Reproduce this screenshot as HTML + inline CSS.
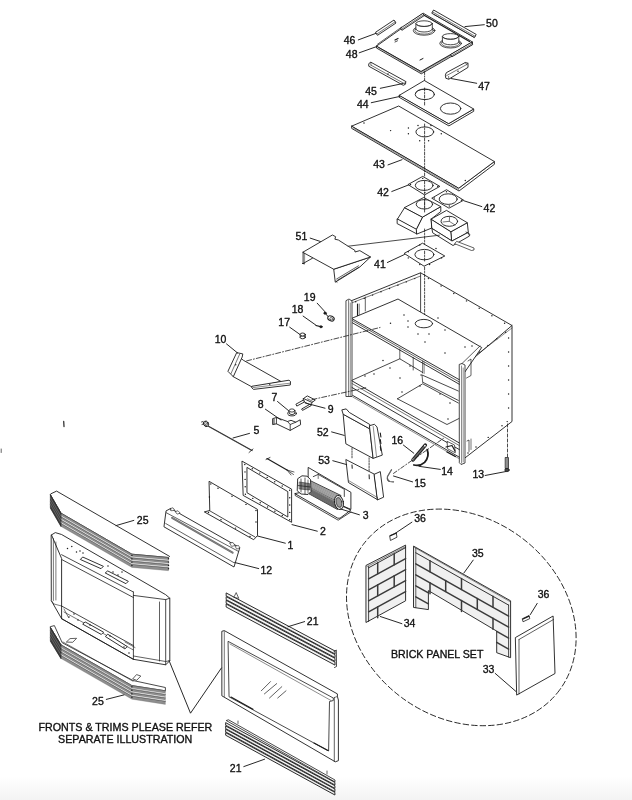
<!DOCTYPE html>
<html><head><meta charset="utf-8"><style>
html,body{margin:0;padding:0;background:#fff;}
body{width:632px;height:800px;overflow:hidden;position:relative;}
svg{position:absolute;left:0;top:0;filter:grayscale(1);}
text{font-family:"Liberation Sans",sans-serif;fill:#111;stroke:#111;stroke-width:0.35px;}
.t{opacity:0.995;}
</style></head><body>
<svg width="632" height="800" viewBox="0 0 632 800" stroke-linecap="round" stroke-linejoin="round">
<defs><linearGradient id="bg" x1="0" y1="0" x2="0" y2="1"><stop offset="0" stop-color="#fff"/><stop offset="1" stop-color="#f3f3f3"/></linearGradient></defs>
<rect x="0" y="776" width="632" height="24" fill="url(#bg)"/>
<polygon points="377.8,35.1 396,23 394,20 375.8,32.1" fill="#fff" stroke="#1c1c1c" stroke-width="0.9" stroke-linejoin="round" />
<polyline points="377,33.9 395.2,21.8" fill="none" stroke="#1c1c1c" stroke-width="0.6" />
<polygon points="432.1,13.4 474.4,37.6 476.2,34.4 433.9,10.2" fill="#fff" stroke="#1c1c1c" stroke-width="0.9" stroke-linejoin="round" />
<polyline points="432.8,12.1 475.1,36.3" fill="none" stroke="#1c1c1c" stroke-width="0.6" />
<polyline points="434,14.5 474,37.2" fill="none" stroke="#1c1c1c" stroke-width="0.6" />
<polygon points="376.8,45.9 421.3,71.3 472.5,42 472.5,44.3 421.3,73.8 376.8,48.2" fill="#fff" stroke="#1c1c1c" stroke-width="0.9" stroke-linejoin="round" />
<polygon points="376.8,45.9 423.2,13.2 472.5,42 421.3,71.3" fill="#fff" stroke="#1c1c1c" stroke-width="0.9" stroke-linejoin="round" />
<polyline points="378,47.5 421.3,72.5 472,43.2" fill="none" stroke="#1c1c1c" stroke-width="0.5" />
<polygon points="402.2,30.1 424.2,15.6 422.8,13.4 400.8,27.9" fill="#fff" stroke="#1c1c1c" stroke-width="0.9" stroke-linejoin="round" />
<polyline points="401.6,29.2 423.6,14.7" fill="none" stroke="#1c1c1c" stroke-width="0.6" />
<polygon points="452.2,56.6 472.7,44.6 471.3,42.4 450.8,54.4" fill="#fff" stroke="#1c1c1c" stroke-width="0.9" stroke-linejoin="round" />
<polyline points="451.6,55.7 472.1,43.7" fill="none" stroke="#1c1c1c" stroke-width="0.6" />
<polyline points="424.5,15.5 469.5,41.5" fill="none" stroke="#1c1c1c" stroke-width="1.3" />
<polyline points="377.5,44.2 401.5,27.2" fill="none" stroke="#1c1c1c" stroke-width="0.7" />
<ellipse cx="424.1" cy="30.6" rx="10.8" ry="4.6" fill="#fff" stroke="#1c1c1c" stroke-width="0.8" />
<ellipse cx="424.1" cy="30.4" rx="9.2" ry="3.7" fill="#fff" stroke="#1c1c1c" stroke-width="0.6" />
<polygon points="415.9,23.6 415.9,29.2 432.3,29.2 432.3,23.6" fill="#fff" stroke="#1c1c1c" stroke-width="0" stroke-linejoin="round" />
<polyline points="415.9,23.6 415.9,29.2" fill="none" stroke="#1c1c1c" stroke-width="0.8" />
<polyline points="432.3,23.6 432.3,29.2" fill="none" stroke="#1c1c1c" stroke-width="0.8" />
<path d="M415.90000000000003,29.2 A8.2,2.8 0 0 0 432.3,29.2" fill="none" stroke="#1c1c1c" stroke-width="0.8"/>
<ellipse cx="424.1" cy="23.6" rx="8.2" ry="2.8" fill="#fff" stroke="#1c1c1c" stroke-width="0.8" />
<path d="M416.5,24.200000000000003 A7.6,2.3 0 0 0 431.70000000000005,24.200000000000003" fill="none" stroke="#1c1c1c" stroke-width="0.6"/>
<ellipse cx="450.6" cy="43.4" rx="10.8" ry="4.6" fill="#fff" stroke="#1c1c1c" stroke-width="0.8" />
<ellipse cx="450.6" cy="43.2" rx="9.2" ry="3.7" fill="#fff" stroke="#1c1c1c" stroke-width="0.6" />
<polygon points="442.4,36.4 442.4,42 458.8,42 458.8,36.4" fill="#fff" stroke="#1c1c1c" stroke-width="0" stroke-linejoin="round" />
<polyline points="442.4,36.4 442.4,42" fill="none" stroke="#1c1c1c" stroke-width="0.8" />
<polyline points="458.8,36.4 458.8,42" fill="none" stroke="#1c1c1c" stroke-width="0.8" />
<path d="M442.40000000000003,42.0 A8.2,2.8 0 0 0 458.8,42.0" fill="none" stroke="#1c1c1c" stroke-width="0.8"/>
<ellipse cx="450.6" cy="36.4" rx="8.2" ry="2.8" fill="#fff" stroke="#1c1c1c" stroke-width="0.8" />
<path d="M443.0,37.0 A7.6,2.3 0 0 0 458.20000000000005,37.0" fill="none" stroke="#1c1c1c" stroke-width="0.6"/>
<polyline points="395,40 398,38.5" fill="none" stroke="#1c1c1c" stroke-width="1.2" />
<polyline points="395,42 397.5,40.8" fill="none" stroke="#1c1c1c" stroke-width="0.8" />
<polyline points="420,60 423,58.5" fill="none" stroke="#1c1c1c" stroke-width="1.0" />
<polygon points="369.1,63.4 370.8,62.2 405.8,81.5 405.5,84.2 403.3,85.3 369.1,66.4" fill="#fff" stroke="#1c1c1c" stroke-width="0.9" stroke-linejoin="round" />
<polyline points="371,65.2 404.3,83.6" fill="none" stroke="#1c1c1c" stroke-width="0.6" />
<polyline points="370.8,62.4 371,65.2" fill="none" stroke="#1c1c1c" stroke-width="0.6" />
<polyline points="404.3,83.6 405.6,81.7" fill="none" stroke="#1c1c1c" stroke-width="0.6" />
<circle cx="388" cy="74" r="0.72" fill="#1c1c1c"/>
<polygon points="445.5,74.8 446.3,72.7 465.3,62.5 468,63.2 468,67.4 448.8,79.2 446.2,78.4" fill="#fff" stroke="#1c1c1c" stroke-width="0.9" stroke-linejoin="round" />
<polyline points="446.6,75.6 466.6,64.6" fill="none" stroke="#1c1c1c" stroke-width="0.6" />
<polyline points="448.6,76.4 448.8,79" fill="none" stroke="#1c1c1c" stroke-width="0.6" />
<polyline points="465.3,62.6 466.6,64.6 468,63.4" fill="none" stroke="#1c1c1c" stroke-width="0.6" />
<circle cx="458" cy="71.3" r="0.72" fill="#1c1c1c"/>
<polygon points="399.5,95.2 448.9,123.5 473.7,109 473.7,111.3 448.9,125.9 399.5,97.5" fill="#fff" stroke="#1c1c1c" stroke-width="0.9" stroke-linejoin="round" />
<polygon points="399.5,95.2 424.3,80.5 473.7,109 448.9,123.5" fill="#fff" stroke="#1c1c1c" stroke-width="0.9" stroke-linejoin="round" />
<ellipse cx="424.8" cy="94.4" rx="9.6" ry="5.2" fill="#fff" stroke="#1c1c1c" stroke-width="0.9" />
<ellipse cx="450.6" cy="108.6" rx="10.2" ry="5.6" fill="#fff" stroke="#1c1c1c" stroke-width="0.9" />
<path d="M415.6,93.2 A9.2,4.2 0 0 1 434,93.2" fill="none" stroke="#1c1c1c" stroke-width="0.6"/>
<polygon points="352,126 459,188 494.4,161.5 494.4,164.3 459,191 352,128.6" fill="#fff" stroke="#1c1c1c" stroke-width="0.9" stroke-linejoin="round" />
<polygon points="352,126 398.7,106 494.4,161.5 459,188" fill="#fff" stroke="#1c1c1c" stroke-width="0.9" stroke-linejoin="round" />
<polyline points="353.5,128.2 458.6,189.5" fill="none" stroke="#1c1c1c" stroke-width="0.5" />
<ellipse cx="424.8" cy="131.9" rx="8.9" ry="5" fill="#fff" stroke="#1c1c1c" stroke-width="0.9" />
<circle cx="364" cy="123" r="0.72" fill="#1c1c1c"/>
<circle cx="390.6" cy="130.6" r="0.72" fill="#1c1c1c"/>
<circle cx="408.4" cy="128" r="0.72" fill="#1c1c1c"/>
<circle cx="408.4" cy="133.7" r="0.72" fill="#1c1c1c"/>
<circle cx="441.3" cy="133.7" r="0.72" fill="#1c1c1c"/>
<circle cx="419.7" cy="140.8" r="0.72" fill="#1c1c1c"/>
<circle cx="428.6" cy="140.8" r="0.72" fill="#1c1c1c"/>
<circle cx="465.3" cy="180.5" r="0.72" fill="#1c1c1c"/>
<circle cx="418" cy="125.5" r="0.72" fill="#1c1c1c"/>
<circle cx="431" cy="125.5" r="0.72" fill="#1c1c1c"/>
<polygon points="408.3,184.4 422.7,176.4 439.9,186.4 424.9,194.7" fill="#fff" stroke="#1c1c1c" stroke-width="0.9" stroke-linejoin="round" />
<ellipse cx="424.2" cy="185.4" rx="8.9" ry="5" fill="#fff" stroke="#1c1c1c" stroke-width="0.9" />
<polygon points="432.1,198 446.5,189.7 463.7,200.2 449.3,208" fill="#fff" stroke="#1c1c1c" stroke-width="0.9" stroke-linejoin="round" />
<ellipse cx="448.2" cy="199.1" rx="9" ry="5.3" fill="#fff" stroke="#1c1c1c" stroke-width="0.9" />
<circle cx="410.5" cy="184.5" r="0.72" fill="#1c1c1c"/>
<circle cx="422.7" cy="178.4" r="0.72" fill="#1c1c1c"/>
<circle cx="437.8" cy="186.4" r="0.72" fill="#1c1c1c"/>
<circle cx="424.9" cy="192.6" r="0.72" fill="#1c1c1c"/>
<circle cx="434.3" cy="198" r="0.72" fill="#1c1c1c"/>
<circle cx="446.5" cy="191.7" r="0.72" fill="#1c1c1c"/>
<circle cx="461.5" cy="200.2" r="0.72" fill="#1c1c1c"/>
<circle cx="449.3" cy="206" r="0.72" fill="#1c1c1c"/>
<polygon points="397.5,219 404.7,207.5 422.7,217 416.5,229.3" fill="#fff" stroke="#1c1c1c" stroke-width="0.9" stroke-linejoin="round" />
<polygon points="397.5,219 416.5,229.3 417,234 397.5,223.8" fill="#fff" stroke="#1c1c1c" stroke-width="0.9" stroke-linejoin="round" />
<polygon points="416.5,229.3 422.7,217 440.8,206.6 440.8,211.5 431.3,219 431.8,228 417,234" fill="#fff" stroke="#1c1c1c" stroke-width="0.9" stroke-linejoin="round" />
<polygon points="404.7,207.5 423.7,197.5 440.8,206.6 422.7,217" fill="#fff" stroke="#1c1c1c" stroke-width="0.9" stroke-linejoin="round" />
<ellipse cx="424.4" cy="204.3" rx="8.2" ry="4.7" fill="#fff" stroke="#1c1c1c" stroke-width="0.9" />
<polyline points="424.6,199.6 424.6,209" fill="none" stroke="#1c1c1c" stroke-width="0.6" stroke-dasharray="2 1"/>
<polygon points="431.3,219 451.2,231.6 452,241 432.2,228.6" fill="#fff" stroke="#1c1c1c" stroke-width="0.9" stroke-linejoin="round" />
<polygon points="451.2,231.6 467.3,222.7 468.3,232.3 452,241" fill="#fff" stroke="#1c1c1c" stroke-width="0.9" stroke-linejoin="round" />
<polygon points="431.3,219 446.5,210.4 467.3,222.7 451.2,231.6" fill="#fff" stroke="#1c1c1c" stroke-width="0.9" stroke-linejoin="round" />
<ellipse cx="449.3" cy="221.3" rx="8.3" ry="5" fill="#fff" stroke="#1c1c1c" stroke-width="0.9" />
<polyline points="443,222 449.3,221.3 455,225" fill="none" stroke="#1c1c1c" stroke-width="0.6" />
<polyline points="449.3,221.3 449.6,216.8" fill="none" stroke="#1c1c1c" stroke-width="0.6" />
<polygon points="432.2,228.6 452,241 468.3,232.3 469.5,236 453,245.5 433,233" fill="#fff" stroke="#1c1c1c" stroke-width="0.9" stroke-linejoin="round" />
<polygon points="455,243.8 471.5,250.5 474,250 474,248 457,241.5" fill="#fff" stroke="#1c1c1c" stroke-width="0.7" stroke-linejoin="round" />
<polyline points="466,232 470,234.5" fill="none" stroke="#1c1c1c" stroke-width="0.7" />
<polygon points="334.1,269.1 370.5,257 359.8,267 335.6,282" fill="#fff" stroke="#1c1c1c" stroke-width="0.9" stroke-linejoin="round" />
<polyline points="337,280.5 359,267.2" fill="none" stroke="#1c1c1c" stroke-width="0.7" />
<polyline points="336.6,279 358.5,265.8" fill="none" stroke="#1c1c1c" stroke-width="0.7" />
<polyline points="336,281.3 337,282.2" fill="none" stroke="#1c1c1c" stroke-width="1.0" />
<polygon points="303.1,252.1 332.4,235 335.6,236.7 334.9,239.2 338.4,240 348.4,246.4 354.8,250.3 355,252 359.8,250.6 370.5,257 334.1,269.1" fill="#fff" stroke="#1c1c1c" stroke-width="0.9" stroke-linejoin="round" />
<polyline points="303.1,252.1 303.1,263.5 312.5,258.2" fill="none" stroke="#1c1c1c" stroke-width="0.9" />
<polyline points="304.6,253.3 304.6,262.5" fill="none" stroke="#1c1c1c" stroke-width="0.5" />
<polyline points="302.5,263.5 304.5,263.8" fill="none" stroke="#1c1c1c" stroke-width="1.0" />
<polyline points="348.2,246.2 439.4,235.2" fill="none" stroke="#1c1c1c" stroke-width="0.8" />
<polygon points="404.5,253.2 422.5,243.2 444.8,256 424.4,266" fill="#fff" stroke="#1c1c1c" stroke-width="0.9" stroke-linejoin="round" />
<ellipse cx="424.4" cy="254.6" rx="9.5" ry="5.2" fill="#fff" stroke="#1c1c1c" stroke-width="0.9" />
<circle cx="419.8" cy="245" r="0.72" fill="#1c1c1c"/>
<circle cx="408.3" cy="251.8" r="0.72" fill="#1c1c1c"/>
<circle cx="408.3" cy="257.9" r="0.72" fill="#1c1c1c"/>
<circle cx="419.8" cy="264.5" r="0.72" fill="#1c1c1c"/>
<circle cx="429.6" cy="264.5" r="0.72" fill="#1c1c1c"/>
<circle cx="441.5" cy="257.9" r="0.72" fill="#1c1c1c"/>
<circle cx="436" cy="248.5" r="0.72" fill="#1c1c1c"/>
<polygon points="512,325.5 512,421.5 464.5,458.5 464.5,366" fill="#fff" stroke="#1c1c1c" stroke-width="0" stroke-linejoin="round" />
<polyline points="349.5,301.5 420.6,272.8 512,325.5 512,421.5 464.5,458.3" fill="none" stroke="#1c1c1c" stroke-width="0.9" />
<polyline points="351.5,303 420.6,276" fill="none" stroke="#1c1c1c" stroke-width="0.6" />
<polyline points="512,325.5 465,365.5" fill="none" stroke="#1c1c1c" stroke-width="0.9" />
<polyline points="512,328 467,362" fill="none" stroke="#1c1c1c" stroke-width="0.5" />
<polyline points="420.6,273 420.6,313.5" fill="none" stroke="#1c1c1c" stroke-width="0.8" />
<circle cx="355.7" cy="301.7" r="0.72" fill="#1c1c1c"/>
<circle cx="364.2" cy="298.4" r="0.72" fill="#1c1c1c"/>
<circle cx="372.6" cy="295.1" r="0.72" fill="#1c1c1c"/>
<circle cx="381" cy="291.8" r="0.72" fill="#1c1c1c"/>
<circle cx="389.5" cy="288.5" r="0.72" fill="#1c1c1c"/>
<circle cx="397.9" cy="285.2" r="0.72" fill="#1c1c1c"/>
<circle cx="406.3" cy="281.9" r="0.72" fill="#1c1c1c"/>
<circle cx="414.8" cy="278.6" r="0.72" fill="#1c1c1c"/>
<circle cx="428.4" cy="278.6" r="0.72" fill="#1c1c1c"/>
<circle cx="441.1" cy="286" r="0.72" fill="#1c1c1c"/>
<circle cx="453.8" cy="293.5" r="0.72" fill="#1c1c1c"/>
<circle cx="466.5" cy="300.9" r="0.72" fill="#1c1c1c"/>
<circle cx="479.2" cy="308.3" r="0.72" fill="#1c1c1c"/>
<circle cx="491.9" cy="315.8" r="0.72" fill="#1c1c1c"/>
<circle cx="504.6" cy="323.2" r="0.72" fill="#1c1c1c"/>
<circle cx="470.4" cy="358.6" r="0.72" fill="#1c1c1c"/>
<circle cx="479.2" cy="352" r="0.72" fill="#1c1c1c"/>
<circle cx="488" cy="345.4" r="0.72" fill="#1c1c1c"/>
<circle cx="496.8" cy="338.8" r="0.72" fill="#1c1c1c"/>
<circle cx="505.6" cy="332.2" r="0.72" fill="#1c1c1c"/>
<polyline points="365.3,297 365.3,311" fill="none" stroke="#1c1c1c" stroke-width="0.7" />
<polyline points="357.5,304 357.5,318" fill="none" stroke="#1c1c1c" stroke-width="1.1" />
<polyline points="359.2,304 359.2,317" fill="none" stroke="#1c1c1c" stroke-width="0.6" />
<polygon points="351.9,318.3 398,299 481.7,347.5 459.7,379.5" fill="#fff" stroke="#1c1c1c" stroke-width="0.9" stroke-linejoin="round" />
<polyline points="351.9,320.3 459.7,382.2" fill="none" stroke="#1c1c1c" stroke-width="0.7" />
<polyline points="351.9,322.5 459.7,384.5" fill="none" stroke="#1c1c1c" stroke-width="0.9" />
<ellipse cx="423.9" cy="323.6" rx="8.7" ry="4.2" fill="#fff" stroke="#1c1c1c" stroke-width="0.9" />
<circle cx="390.5" cy="323.3" r="0.72" fill="#1c1c1c"/>
<circle cx="408" cy="321" r="0.72" fill="#1c1c1c"/>
<circle cx="408" cy="327" r="0.72" fill="#1c1c1c"/>
<circle cx="418" cy="334" r="0.72" fill="#1c1c1c"/>
<circle cx="429" cy="334" r="0.72" fill="#1c1c1c"/>
<circle cx="425" cy="342" r="0.72" fill="#1c1c1c"/>
<circle cx="404" cy="315" r="0.72" fill="#1c1c1c"/>
<circle cx="438" cy="318" r="0.72" fill="#1c1c1c"/>
<circle cx="445" cy="330" r="0.72" fill="#1c1c1c"/>
<circle cx="465" cy="347" r="0.72" fill="#1c1c1c"/>
<circle cx="472" cy="346" r="0.72" fill="#1c1c1c"/>
<circle cx="445" cy="353" r="0.72" fill="#1c1c1c"/>
<polygon points="346.3,300.5 349,299 352,301 352,396.5 346.3,396.5" fill="#fff" stroke="#1c1c1c" stroke-width="0.8" stroke-linejoin="round" />
<polyline points="348.6,300.5 348.6,396" fill="none" stroke="#1c1c1c" stroke-width="0.6" />
<polyline points="350.3,303 350.3,396" fill="none" stroke="#1c1c1c" stroke-width="0.5" />
<polyline points="399.8,349 399.8,358.8" fill="none" stroke="#1c1c1c" stroke-width="0.7" />
<polyline points="352.5,380 399.8,358.8 422.7,372.5" fill="none" stroke="#1c1c1c" stroke-width="0.8" />
<polyline points="413.2,357.5 413.2,370" fill="none" stroke="#1c1c1c" stroke-width="0.7" />
<polyline points="422.7,361 422.7,373" fill="none" stroke="#1c1c1c" stroke-width="0.7" />
<polyline points="424.2,362 424.2,373.5" fill="none" stroke="#1c1c1c" stroke-width="0.5" />
<polyline points="422,375 458.3,391" fill="none" stroke="#1c1c1c" stroke-width="0.8" />
<polyline points="422.7,382.2 458.3,400.4" fill="none" stroke="#1c1c1c" stroke-width="0.8" />
<polyline points="420.5,375 422,375 422.7,382.2" fill="none" stroke="#1c1c1c" stroke-width="0.7" />
<polyline points="397.4,398.8 422.7,383.8 458.3,403" fill="none" stroke="#1c1c1c" stroke-width="0.8" />
<polyline points="397.4,398.8 447,424.5 459,418.5" fill="none" stroke="#1c1c1c" stroke-width="0.8" />
<circle cx="383" cy="360.5" r="0.72" fill="#1c1c1c"/>
<circle cx="390" cy="368" r="0.72" fill="#1c1c1c"/>
<circle cx="374" cy="374" r="0.72" fill="#1c1c1c"/>
<circle cx="365" cy="376" r="0.72" fill="#1c1c1c"/>
<circle cx="400" cy="378" r="0.72" fill="#1c1c1c"/>
<circle cx="410" cy="366" r="0.72" fill="#1c1c1c"/>
<circle cx="402" cy="392" r="0.72" fill="#1c1c1c"/>
<circle cx="420" cy="386" r="0.72" fill="#1c1c1c"/>
<circle cx="440" cy="394" r="0.72" fill="#1c1c1c"/>
<circle cx="450" cy="403" r="0.72" fill="#1c1c1c"/>
<circle cx="448" cy="419" r="0.72" fill="#1c1c1c"/>
<polyline points="351.9,380.8 459.7,443.2" fill="none" stroke="#1c1c1c" stroke-width="0.9" />
<polyline points="352,383.5 459.7,445.8" fill="none" stroke="#1c1c1c" stroke-width="0.6" />
<polyline points="352,387.5 459.7,449.8" fill="none" stroke="#1c1c1c" stroke-width="0.9" />
<polyline points="352.7,395.4 459.7,457.4" fill="none" stroke="#1c1c1c" stroke-width="0.9" />
<polyline points="352.7,397 459.7,459" fill="none" stroke="#1c1c1c" stroke-width="0.5" />
<polyline points="461,364.5 480,346" fill="none" stroke="#1c1c1c" stroke-width="0.7" />
<polygon points="459.6,364.3 462,363.5 465,365 465,463 461,464.5 459.6,463" fill="#fff" stroke="#1c1c1c" stroke-width="0.8" stroke-linejoin="round" />
<polyline points="461.5,366 461.5,463" fill="none" stroke="#1c1c1c" stroke-width="0.5" />
<polyline points="463.2,368 463.2,462" fill="none" stroke="#1c1c1c" stroke-width="0.5" />
<polyline points="468,361 471,359 471,375.5 466.5,378" fill="none" stroke="#1c1c1c" stroke-width="0.7" />
<polygon points="447.4,441.5 454.5,445 455.3,452.8 448,449" fill="#fff" stroke="#1c1c1c" stroke-width="0.7" stroke-linejoin="round" />
<polyline points="446,447 452,445.5 455,451" fill="none" stroke="#1c1c1c" stroke-width="1.2" />
<polyline points="447,452 455.3,456.5" fill="none" stroke="#1c1c1c" stroke-width="1.4" />
<polyline points="467,441 469,440 469,451.5" fill="none" stroke="#1c1c1c" stroke-width="0.7" />
<polyline points="471,439 471,449.5" fill="none" stroke="#1c1c1c" stroke-width="0.6" />
<circle cx="508.6" cy="338" r="0.72" fill="#1c1c1c"/>
<circle cx="508.6" cy="352" r="0.72" fill="#1c1c1c"/>
<circle cx="508.6" cy="366" r="0.72" fill="#1c1c1c"/>
<circle cx="508.6" cy="380" r="0.72" fill="#1c1c1c"/>
<circle cx="508.6" cy="394" r="0.72" fill="#1c1c1c"/>
<circle cx="508.6" cy="408" r="0.72" fill="#1c1c1c"/>
<circle cx="507.2" cy="421.6" r="0.72" fill="#1c1c1c"/>
<circle cx="502" cy="425.8" r="0.72" fill="#1c1c1c"/>
<circle cx="488.2" cy="437.4" r="0.72" fill="#1c1c1c"/>
<circle cx="476" cy="447" r="0.72" fill="#1c1c1c"/>
<circle cx="468" cy="453" r="0.72" fill="#1c1c1c"/>
<polyline points="507.5,424 507.5,457.5" fill="none" stroke="#1c1c1c" stroke-width="0.8" stroke-dasharray="3 2"/>
<ellipse cx="331" cy="318.4" rx="3.4" ry="2.4" fill="#fff" stroke="#1c1c1c" stroke-width="1.0" transform="rotate(25 331 318.4)" />
<ellipse cx="331.5" cy="318.9" rx="1.8" ry="1.1" fill="#fff" stroke="#1c1c1c" stroke-width="0.6" transform="rotate(25 331.5 318.9)" />
<polyline points="324.5,312.5 328,316.5" fill="none" stroke="#1c1c1c" stroke-width="1.0" />
<ellipse cx="325" cy="313.2" rx="1.2" ry="1" fill="#1c1c1c" stroke="#1c1c1c" stroke-width="0.9" />
<polyline points="316,325.5 320.5,326.6" fill="none" stroke="#1c1c1c" stroke-width="1.2" />
<ellipse cx="321" cy="326.8" rx="1.2" ry="1" fill="#1c1c1c" stroke="#1c1c1c" stroke-width="0.9" />
<polygon points="300.2,334.5 300.2,337.3 305.2,337.3 305.2,334.5" fill="#fff" stroke="#1c1c1c" stroke-width="0" stroke-linejoin="round" />
<ellipse cx="302.7" cy="337.3" rx="2.6" ry="1.5" fill="#fff" stroke="#1c1c1c" stroke-width="0.9" />
<ellipse cx="302.7" cy="334.5" rx="2.6" ry="1.5" fill="#fff" stroke="#1c1c1c" stroke-width="0.9" />
<polyline points="300.1,334.5 300.1,337.3" fill="none" stroke="#1c1c1c" stroke-width="0.8" />
<polyline points="305.3,334.5 305.3,337.3" fill="none" stroke="#1c1c1c" stroke-width="0.8" />
<polygon points="240.5,358 243.4,360.3 281,381.5 253,387.5 233.3,376.7" fill="#fff" stroke="#1c1c1c" stroke-width="0.9" stroke-linejoin="round" />
<polygon points="237.1,352.7 242.8,353.9 242.2,357 233.3,376.7 228.2,371.6" fill="#fff" stroke="#1c1c1c" stroke-width="0.9" stroke-linejoin="round" />
<polyline points="239.6,354.3 231,373.6" fill="none" stroke="#1c1c1c" stroke-width="0.6" />
<polygon points="252.3,386.2 289,380.2 290.5,381.5 290.3,385 253.5,389.4 252,388" fill="#fff" stroke="#1c1c1c" stroke-width="0.9" stroke-linejoin="round" />
<polyline points="253,387.6 290,383.2" fill="none" stroke="#1c1c1c" stroke-width="0.5" />
<circle cx="235.7" cy="364.8" r="0.72" fill="#1c1c1c"/>
<circle cx="269.8" cy="384.6" r="0.72" fill="#1c1c1c"/>
<ellipse cx="292" cy="413.4" rx="4.3" ry="2.5" fill="#fff" stroke="#1c1c1c" stroke-width="0.9" />
<polygon points="289.2,410.5 289.2,413 294.8,413 294.8,410.5" fill="#fff" stroke="#1c1c1c" stroke-width="0" stroke-linejoin="round" />
<polyline points="289.2,410.5 289.2,413.2" fill="none" stroke="#1c1c1c" stroke-width="0.8" />
<polyline points="294.8,410.5 294.8,413.2" fill="none" stroke="#1c1c1c" stroke-width="0.8" />
<path d="M289.2,413 A2.8,1.6 0 0 0 294.8,413" fill="none" stroke="#1c1c1c" stroke-width="0.8"/>
<ellipse cx="292" cy="410.5" rx="2.8" ry="1.6" fill="#fff" stroke="#1c1c1c" stroke-width="0.8" />
<polygon points="273,418.5 276.5,417.5 287.5,421.5 291,420.3 295.8,422.2 300.2,419.8 300.6,424.7 290.2,430.4 276.4,423.8 273,424.5" fill="#fff" stroke="#1c1c1c" stroke-width="0.9" stroke-linejoin="round" />
<polyline points="276.5,417.5 276.4,423.8" fill="none" stroke="#1c1c1c" stroke-width="0.8" />
<polyline points="287.5,421.5 290.2,424.5 290.2,430.4" fill="none" stroke="#1c1c1c" stroke-width="0.8" />
<polyline points="290.2,424.5 295.8,422.2" fill="none" stroke="#1c1c1c" stroke-width="0.8" />
<polyline points="274,419 274,424" fill="none" stroke="#1c1c1c" stroke-width="0.9" />
<polygon points="303.5,398.5 307.3,395.9 315.3,400 312,402.5" fill="#fff" stroke="#1c1c1c" stroke-width="0.9" stroke-linejoin="round" />
<polygon points="303.5,398.5 312,402.5 311,405.5 303.8,401.6" fill="#fff" stroke="#1c1c1c" stroke-width="0.8" stroke-linejoin="round" />
<polygon points="303.5,400 295.9,404.2 296.8,406.1 304,402.2" fill="#fff" stroke="#1c1c1c" stroke-width="0.9" stroke-linejoin="round" />
<polygon points="310.1,404.2 301.6,409 302.5,410.4 310.8,405.8" fill="#fff" stroke="#1c1c1c" stroke-width="0.9" stroke-linejoin="round" />
<polyline points="307.5,398.8 312.5,401.3" fill="none" stroke="#1c1c1c" stroke-width="0.6" />
<polyline points="208,426 252,450.5" fill="none" stroke="#1c1c1c" stroke-width="1.2" />
<polyline points="208,426.2 252,450.7" fill="none" stroke="#888" stroke-width="0.3" />
<ellipse cx="206" cy="423.8" rx="2.4" ry="2.9" fill="#777" stroke="#1c1c1c" stroke-width="0.9" transform="rotate(-35 206 423.8)" />
<polyline points="204.5,422 207.5,425.5" fill="none" stroke="#fff" stroke-width="0.6" />
<polyline points="204.3,424.5 207,421.8" fill="none" stroke="#fff" stroke-width="0.6" />
<polyline points="201.5,422 203,421.5" fill="none" stroke="#1c1c1c" stroke-width="0.8" />
<polyline points="202,424.5 203.5,424" fill="none" stroke="#1c1c1c" stroke-width="0.8" />
<polyline points="249,452.5 253,449" fill="none" stroke="#1c1c1c" stroke-width="0.8" />
<polyline points="267,458.6 287,470" fill="none" stroke="#1c1c1c" stroke-width="1.2" />
<polyline points="266,459.5 270,457.5" fill="none" stroke="#1c1c1c" stroke-width="0.8" />
<polyline points="287,470 294,472" fill="none" stroke="#1c1c1c" stroke-width="0.7" />
<polyline points="287,470 293.5,474.5" fill="none" stroke="#1c1c1c" stroke-width="0.7" />
<polyline points="287,470 291,475" fill="none" stroke="#1c1c1c" stroke-width="0.7" />
<polygon points="343.5,414.4 369.8,428.9 373.1,458.4 346.2,444" fill="#fff" stroke="#1c1c1c" stroke-width="0.9" stroke-linejoin="round" />
<polygon points="342.2,409.8 346.2,408.9 349.4,412.5 369.8,424.5 369.8,428.9 343.5,414.4" fill="#fff" stroke="#1c1c1c" stroke-width="0.9" stroke-linejoin="round" />
<polygon points="369.8,425.6 374.4,424.3 377,426.9 382.3,455.1 373.1,458.4 369.8,428.9" fill="#fff" stroke="#1c1c1c" stroke-width="0.9" stroke-linejoin="round" />
<polyline points="373.2,426.5 376.5,456.5" fill="none" stroke="#1c1c1c" stroke-width="0.5" />
<polyline points="380.3,433 380.9,437" fill="none" stroke="#1c1c1c" stroke-width="1.1" />
<polyline points="380.3,439.5 380.9,443.5" fill="none" stroke="#1c1c1c" stroke-width="1.1" />
<polyline points="380.3,446.5 380.9,450.5" fill="none" stroke="#1c1c1c" stroke-width="1.1" />
<polyline points="352,448 352,457.8" fill="none" stroke="#1c1c1c" stroke-width="0.8" stroke-dasharray="1.6 1.2"/>
<polyline points="369.1,457.8 369.1,470.9" fill="none" stroke="#1c1c1c" stroke-width="0.8" stroke-dasharray="1.6 1.2"/>
<polygon points="346.2,459.7 374.4,474.2 377.7,499.8 348.8,482.7" fill="#fff" stroke="#1c1c1c" stroke-width="0.9" stroke-linejoin="round" />
<polygon points="374.4,474.2 380.3,471.6 383.6,497.2 377.7,499.8" fill="#fff" stroke="#1c1c1c" stroke-width="0.9" stroke-linejoin="round" />
<polyline points="349,480.8 377.4,497.5" fill="none" stroke="#1c1c1c" stroke-width="0.5" />
<polyline points="352,465 352.2,468.3" fill="none" stroke="#1c1c1c" stroke-width="1.0" />
<polyline points="369.1,474.8 369.3,478.8" fill="none" stroke="#1c1c1c" stroke-width="1.0" />
<polyline points="413,459.8 425.3,445.2" fill="none" stroke="#1c1c1c" stroke-width="3.5" />
<polyline points="414.2,458.3 424.2,446.6" fill="none" stroke="#6a6a6a" stroke-width="1.5" />
<ellipse cx="413.3" cy="459.4" rx="0.9" ry="0.9" fill="#fff" stroke="#1c1c1c" stroke-width="0" />
<ellipse cx="424.9" cy="445.7" rx="0.9" ry="0.9" fill="#fff" stroke="#1c1c1c" stroke-width="0" />
<path d="M427.2,449.6 Q429.8,456.5 424.6,462.3 Q419.8,466.6 413.9,465" fill="none" stroke="#1c1c1c" stroke-width="1.8"/>
<path d="M391.5,469.8 L387.5,476.5 Q386.8,480.5 390,481.5 L393.5,481.8" fill="none" stroke="#1c1c1c" stroke-width="1.2"/>
<path d="M391.5,469.8 L387.5,476.5 Q386.8,480.5 390,481.5 L393.5,481.8" fill="none" stroke="#fff" stroke-width="0.35"/>
<polyline points="393.5,473.4 444,438" fill="none" stroke="#1c1c1c" stroke-width="0.8" stroke-dasharray="4 2 1 2"/>
<polygon points="505.6,457.5 508.4,457.5 508.4,468.5 505.6,468.5" fill="#777" stroke="#1c1c1c" stroke-width="0.8" stroke-linejoin="round" />
<polyline points="507,458 507,468" fill="none" stroke="#ddd" stroke-width="0.5" />
<ellipse cx="507" cy="470" rx="2.2" ry="1.7" fill="#444" stroke="#1c1c1c" stroke-width="0.8" />
<polygon points="308.5,467.6 350.9,492.3 350.9,509.4 308.5,491" fill="#fff" stroke="#1c1c1c" stroke-width="0.9" stroke-linejoin="round" />
<polygon points="295.2,493.5 308.5,491 350.9,510 340,518.2 338.2,518.2" fill="#fff" stroke="#1c1c1c" stroke-width="0.9" stroke-linejoin="round" />
<polyline points="295.2,493.5 295.2,495.5 338.2,520.2 350.9,512" fill="none" stroke="#1c1c1c" stroke-width="0.8" />
<polygon points="311,481 341,495.5 337.5,509.5 307.5,493" fill="#c8c8c8" stroke="#1c1c1c" stroke-width="0.8" stroke-linejoin="round" />
<polyline points="310.7,482 340.7,496.7" fill="none" stroke="#555" stroke-width="0.45" />
<polyline points="310.4,483 340.4,497.8" fill="none" stroke="#555" stroke-width="0.45" />
<polyline points="310.1,484 340.1,499" fill="none" stroke="#555" stroke-width="0.45" />
<polyline points="309.8,485 339.8,500.2" fill="none" stroke="#555" stroke-width="0.45" />
<polyline points="309.5,486 339.5,501.3" fill="none" stroke="#555" stroke-width="0.45" />
<polyline points="309.2,487 339.2,502.5" fill="none" stroke="#333" stroke-width="0.6" />
<polyline points="309,488 339,503.7" fill="none" stroke="#333" stroke-width="0.6" />
<polyline points="308.7,489 338.7,504.8" fill="none" stroke="#333" stroke-width="0.6" />
<polyline points="308.4,490 338.4,506" fill="none" stroke="#333" stroke-width="0.6" />
<polyline points="308.1,491 338.1,507.2" fill="none" stroke="#333" stroke-width="0.6" />
<polyline points="307.8,492 337.8,508.3" fill="none" stroke="#333" stroke-width="0.6" />
<polygon points="308.9,488.2 338.9,503.9 337.5,509.5 307.5,493" fill="#5a5a5a" stroke="#1c1c1c" stroke-width="0" stroke-linejoin="round" />
<polyline points="309,488 339,503.7" fill="none" stroke="#9a9a9a" stroke-width="0.35" />
<polyline points="308.7,489 338.7,504.8" fill="none" stroke="#9a9a9a" stroke-width="0.35" />
<polyline points="308.4,490 338.4,506" fill="none" stroke="#9a9a9a" stroke-width="0.35" />
<polyline points="308.1,491 338.1,507.2" fill="none" stroke="#9a9a9a" stroke-width="0.35" />
<polyline points="307.8,492 337.8,508.3" fill="none" stroke="#9a9a9a" stroke-width="0.35" />
<ellipse cx="339" cy="502.5" rx="4.4" ry="7.2" fill="#e8e8e8" stroke="#1c1c1c" stroke-width="0.9" transform="rotate(-12 339 502.5)" />
<ellipse cx="339" cy="502.5" rx="2.8" ry="5" fill="#9a9a9a" stroke="#1c1c1c" stroke-width="0.6" transform="rotate(-12 339 502.5)" />
<polyline points="313.3,476.6 318.2,474.4 344.3,489.3 344.3,496.5" fill="none" stroke="#1c1c1c" stroke-width="0.8" />
<polyline points="318.2,474.4 318.2,478.5" fill="none" stroke="#1c1c1c" stroke-width="0.6" />
<polygon points="298,478.5 302,475.8 307,476.2 310.5,479.5 311,491.5 308,494.5 301,494 297.5,491" fill="#fff" stroke="#1c1c1c" stroke-width="0.9" stroke-linejoin="round" />
<polygon points="299.5,482 309.5,483.5 309.5,490 299.5,489" fill="#888" stroke="#1c1c1c" stroke-width="0.5" stroke-linejoin="round" />
<polyline points="301,479 301,492" fill="none" stroke="#1c1c1c" stroke-width="0.7" />
<polyline points="305,478 305,494" fill="none" stroke="#1c1c1c" stroke-width="0.7" />
<polyline points="308,480 308,493" fill="none" stroke="#1c1c1c" stroke-width="0.6" />
<polyline points="298,485.5 310.5,487" fill="none" stroke="#1c1c1c" stroke-width="0.7" />
<polygon points="242.3,461.3 291.6,489.1 291.6,522.3 243.5,495.6" fill="#fff" stroke="#1c1c1c" stroke-width="0.9" stroke-linejoin="round" />
<polygon points="247.3,467.6 287.8,491.6 287.8,517 247.3,492.9" fill="#fff" stroke="#1c1c1c" stroke-width="0.9" stroke-linejoin="round" />
<circle cx="244.8" cy="464.5" r="0.72" fill="#1c1c1c"/>
<circle cx="245.4" cy="494.2" r="0.72" fill="#1c1c1c"/>
<circle cx="252.3" cy="468.8" r="0.72" fill="#1c1c1c"/>
<circle cx="252.8" cy="498.4" r="0.72" fill="#1c1c1c"/>
<circle cx="259.8" cy="473.1" r="0.72" fill="#1c1c1c"/>
<circle cx="260.2" cy="502.7" r="0.72" fill="#1c1c1c"/>
<circle cx="267.2" cy="477.4" r="0.72" fill="#1c1c1c"/>
<circle cx="267.6" cy="507" r="0.72" fill="#1c1c1c"/>
<circle cx="274.7" cy="481.7" r="0.72" fill="#1c1c1c"/>
<circle cx="274.9" cy="511.2" r="0.72" fill="#1c1c1c"/>
<circle cx="282.2" cy="486" r="0.72" fill="#1c1c1c"/>
<circle cx="282.3" cy="515.5" r="0.72" fill="#1c1c1c"/>
<circle cx="289.7" cy="490.3" r="0.72" fill="#1c1c1c"/>
<circle cx="289.7" cy="519.7" r="0.72" fill="#1c1c1c"/>
<circle cx="245" cy="471.9" r="0.72" fill="#1c1c1c"/>
<circle cx="289.7" cy="497.7" r="0.72" fill="#1c1c1c"/>
<circle cx="245.1" cy="479.4" r="0.72" fill="#1c1c1c"/>
<circle cx="289.7" cy="505" r="0.72" fill="#1c1c1c"/>
<circle cx="245.2" cy="486.8" r="0.72" fill="#1c1c1c"/>
<circle cx="289.7" cy="512.4" r="0.72" fill="#1c1c1c"/>
<polygon points="209.4,481.5 257.5,509.4 257.5,535.5 253.7,539.7 204.3,511.9 209.4,510.6" fill="#fff" stroke="#1c1c1c" stroke-width="0.9" stroke-linejoin="round" />
<polyline points="209.4,510.6 255,537" fill="none" stroke="#1c1c1c" stroke-width="0.8" />
<circle cx="210.8" cy="484" r="0.72" fill="#1c1c1c"/>
<circle cx="218" cy="488.2" r="0.72" fill="#1c1c1c"/>
<circle cx="232" cy="496.3" r="0.72" fill="#1c1c1c"/>
<circle cx="246" cy="504.4" r="0.72" fill="#1c1c1c"/>
<circle cx="256" cy="510.5" r="0.72" fill="#1c1c1c"/>
<circle cx="209.4" cy="497" r="0.72" fill="#1c1c1c"/>
<circle cx="256" cy="522" r="0.72" fill="#1c1c1c"/>
<circle cx="208.5" cy="512.5" r="0.72" fill="#1c1c1c"/>
<circle cx="221" cy="519.8" r="0.72" fill="#1c1c1c"/>
<circle cx="235.5" cy="528.1" r="0.72" fill="#1c1c1c"/>
<circle cx="250" cy="536.4" r="0.72" fill="#1c1c1c"/>
<polygon points="166.4,510.7 170.7,508.5 239.8,547.7 234,567 164.3,527" fill="#fff" stroke="#1c1c1c" stroke-width="0.9" stroke-linejoin="round" />
<polyline points="166.4,512.8 238.3,551.3" fill="none" stroke="#1c1c1c" stroke-width="0.7" />
<polyline points="165.7,523.5 234,562.7" fill="none" stroke="#1c1c1c" stroke-width="0.7" />
<polyline points="170.7,508.5 170.7,510.5" fill="none" stroke="#1c1c1c" stroke-width="0.6" />
<polygon points="170.5,508.5 173,507.8 174.5,509.8 172,510.8" fill="#fff" stroke="#1c1c1c" stroke-width="0.6" stroke-linejoin="round" />
<polygon points="175.5,511.5 178,510.8 180.2,513.2 177.5,514" fill="#fff" stroke="#1c1c1c" stroke-width="0.6" stroke-linejoin="round" />
<polygon points="230,543 233,542.5 235,545.5 232,546.3" fill="#fff" stroke="#1c1c1c" stroke-width="0.6" stroke-linejoin="round" />
<polygon points="235.5,546 238.5,545.5 239.8,547.7 237,549" fill="#fff" stroke="#1c1c1c" stroke-width="0.6" stroke-linejoin="round" />
<polyline points="172.1,517.8 232.6,552.7" fill="none" stroke="#6a6a6a" stroke-width="2.0" />
<polyline points="172.1,517.8 232.6,552.7" fill="none" stroke="#9a9a9a" stroke-width="0.5" />
<polygon points="51.1,493.7 56.6,491.1 169.6,556.4 168.5,557.5 131.9,554.2 61,513.2 50.6,495.1" fill="#fff" stroke="#1c1c1c" stroke-width="0.9" stroke-linejoin="round" />
<polygon points="50.6,505.2 61,523.2 131.9,564.2 168.5,567.5 168.5,570.7 131.9,567.4 61,526.4 50.6,508.3" fill="#8e8e8e" stroke="#707070" stroke-width="0.3" stroke-linejoin="round" />
<polyline points="50.6,505.2 61,523.2 131.9,564.2 168.5,567.5" fill="none" stroke="#505050" stroke-width="0.5" />
<polygon points="50.6,501.8 61,519.9 131.9,560.9 168.5,564.2 168.5,567.4 131.9,564.1 61,523.1 50.6,505" fill="#8e8e8e" stroke="#707070" stroke-width="0.3" stroke-linejoin="round" />
<polyline points="50.6,501.8 61,519.9 131.9,560.9 168.5,564.2" fill="none" stroke="#505050" stroke-width="0.5" />
<polygon points="50.6,498.5 61,516.6 131.9,557.6 168.5,560.9 168.5,564 131.9,560.7 61,519.7 50.6,501.6" fill="#8e8e8e" stroke="#707070" stroke-width="0.3" stroke-linejoin="round" />
<polyline points="50.6,498.5 61,516.6 131.9,557.6 168.5,560.9" fill="none" stroke="#505050" stroke-width="0.5" />
<polygon points="50.6,495.1 61,513.2 131.9,554.2 168.5,557.5 168.5,560.7 131.9,557.4 61,516.4 50.6,498.3" fill="#8e8e8e" stroke="#707070" stroke-width="0.3" stroke-linejoin="round" />
<polyline points="50.6,495.1 61,513.2 131.9,554.2 168.5,557.5" fill="none" stroke="#505050" stroke-width="0.5" />
<polyline points="50.6,498 61,516.1 131.9,557.1 168.5,560.4" fill="none" stroke="#fcfcfc" stroke-width="0.95" />
<polyline points="50.6,498.6 61,516.7 131.9,557.7 168.5,561" fill="none" stroke="#505050" stroke-width="0.5" />
<polyline points="50.6,501.3 61,519.4 131.9,560.4 168.5,563.7" fill="none" stroke="#fcfcfc" stroke-width="0.95" />
<polyline points="50.6,501.9 61,520 131.9,561 168.5,564.3" fill="none" stroke="#505050" stroke-width="0.5" />
<polyline points="50.6,504.7 61,522.8 131.9,563.8 168.5,567" fill="none" stroke="#fcfcfc" stroke-width="0.95" />
<polyline points="50.6,505.2 61,523.4 131.9,564.4 168.5,567.6" fill="none" stroke="#505050" stroke-width="0.5" />
<circle cx="131.9" cy="555.4" r="0.72" fill="#1c1c1c"/>
<circle cx="168.5" cy="558.7" r="0.72" fill="#1c1c1c"/>
<circle cx="131.9" cy="558.8" r="0.72" fill="#1c1c1c"/>
<circle cx="168.5" cy="562.1" r="0.72" fill="#1c1c1c"/>
<circle cx="131.9" cy="562.1" r="0.72" fill="#1c1c1c"/>
<circle cx="168.5" cy="565.4" r="0.72" fill="#1c1c1c"/>
<circle cx="131.9" cy="565.5" r="0.72" fill="#1c1c1c"/>
<circle cx="168.5" cy="568.8" r="0.72" fill="#1c1c1c"/>
<polygon points="50.6,495.1 61,513.2 61,526.6 50.6,508.5" fill="#3c3c3c" stroke="#1c1c1c" stroke-width="0.6" stroke-linejoin="round" />
<polyline points="50.6,498.1 61,516.2" fill="none" stroke="#8a8a8a" stroke-width="0.5" />
<polyline points="50.6,501.4 61,519.5" fill="none" stroke="#8a8a8a" stroke-width="0.5" />
<polyline points="50.6,504.8 61,522.9" fill="none" stroke="#8a8a8a" stroke-width="0.5" />
<polygon points="51.5,534.9 55.3,532.6 61.6,534.5 165.7,594.7 169.8,598.2 169.8,660.7 165.7,664.8 133.4,659.3 61.6,618.7 51.5,601" fill="#fff" stroke="#1c1c1c" stroke-width="0.9" stroke-linejoin="round" />
<polyline points="51.5,534.9 61.6,558.5 61.6,618.7" fill="none" stroke="#1c1c1c" stroke-width="0.9" />
<polyline points="53.4,538.5 53.4,600.5" fill="none" stroke="#1c1c1c" stroke-width="0.6" />
<polyline points="55.9,542 55.9,600" fill="none" stroke="#1c1c1c" stroke-width="0.6" />
<polyline points="51.5,601 54,604 61.6,606" fill="none" stroke="#1c1c1c" stroke-width="0.6" />
<polyline points="61.6,554.7 133.4,592" fill="none" stroke="#1c1c1c" stroke-width="0.8" />
<polyline points="62.2,559.8 133.4,597.5" fill="none" stroke="#1c1c1c" stroke-width="0.8" />
<polygon points="80.6,559.2 82.7,557 103.4,566.3 101.3,568.4" fill="#fff" stroke="#1c1c1c" stroke-width="0.9" stroke-linejoin="round" />
<polygon points="105.5,572.7 107.7,570.9 128.3,581.3 126.2,583.4" fill="#fff" stroke="#1c1c1c" stroke-width="0.9" stroke-linejoin="round" />
<circle cx="67.5" cy="548.5" r="0.72" fill="#1c1c1c"/>
<circle cx="71.8" cy="546.5" r="0.72" fill="#1c1c1c"/>
<circle cx="76.5" cy="552" r="0.72" fill="#1c1c1c"/>
<circle cx="80" cy="551" r="0.72" fill="#1c1c1c"/>
<circle cx="83" cy="553" r="0.72" fill="#1c1c1c"/>
<circle cx="108" cy="566" r="0.72" fill="#1c1c1c"/>
<circle cx="113" cy="572" r="0.72" fill="#1c1c1c"/>
<circle cx="118" cy="575" r="0.72" fill="#1c1c1c"/>
<circle cx="122" cy="572" r="0.72" fill="#1c1c1c"/>
<polyline points="133.4,592 133.4,659.3" fill="none" stroke="#1c1c1c" stroke-width="0.8" />
<polyline points="133.4,595.4 165.7,599.6 169.8,598.2" fill="none" stroke="#1c1c1c" stroke-width="0.8" />
<polyline points="159.5,602 159.5,661" fill="none" stroke="#1c1c1c" stroke-width="0.7" />
<polyline points="165.7,599.6 165.7,664.8" fill="none" stroke="#1c1c1c" stroke-width="0.8" />
<polyline points="133.4,656 165.7,661.5 169.8,660.7" fill="none" stroke="#1c1c1c" stroke-width="0.7" />
<polyline points="61.6,606 133.4,645.5" fill="none" stroke="#1c1c1c" stroke-width="0.8" />
<polyline points="61.6,618.7 133.4,659.3" fill="none" stroke="#1c1c1c" stroke-width="0.8" />
<polyline points="64,612 133.4,650" fill="none" stroke="#1c1c1c" stroke-width="0.6" />
<polygon points="83,623.9 85.1,621.9 103.6,632.2 101.6,634.2" fill="#fff" stroke="#1c1c1c" stroke-width="0.9" stroke-linejoin="round" />
<polygon points="105.7,636.3 107.7,634.2 127.3,646.6 125.2,648.6" fill="#fff" stroke="#1c1c1c" stroke-width="0.9" stroke-linejoin="round" />
<polyline points="64,609 68.5,617.5" fill="none" stroke="#1c1c1c" stroke-width="0.6" />
<circle cx="69" cy="617" r="0.72" fill="#1c1c1c"/>
<circle cx="74" cy="614" r="0.72" fill="#1c1c1c"/>
<circle cx="78" cy="620" r="0.72" fill="#1c1c1c"/>
<circle cx="90" cy="625" r="0.72" fill="#1c1c1c"/>
<circle cx="110" cy="636" r="0.72" fill="#1c1c1c"/>
<circle cx="124" cy="647" r="0.72" fill="#1c1c1c"/>
<circle cx="129" cy="653" r="0.72" fill="#1c1c1c"/>
<polyline points="125,642 135,647.5" fill="none" stroke="#1c1c1c" stroke-width="0.6" />
<polygon points="50.6,626.6 54.4,625.6 62.2,642.7 133,680.5 165.4,687.5 165.4,690.8 131.9,685.6 61,644.9 50.6,627.8" fill="#fff" stroke="#1c1c1c" stroke-width="0.8" stroke-linejoin="round" />
<polygon points="50.6,638.1 61,655.2 131.9,696 165.4,701.1 165.4,704.4 131.9,699.2 61,658.5 50.6,641.4" fill="#8e8e8e" stroke="#707070" stroke-width="0.3" stroke-linejoin="round" />
<polyline points="50.6,638.1 61,655.2 131.9,696 165.4,701.1" fill="none" stroke="#505050" stroke-width="0.5" />
<polygon points="50.6,634.7 61,651.8 131.9,692.5 165.4,697.7 165.4,701 131.9,695.8 61,655.1 50.6,638" fill="#8e8e8e" stroke="#707070" stroke-width="0.3" stroke-linejoin="round" />
<polyline points="50.6,634.7 61,651.8 131.9,692.5 165.4,697.7" fill="none" stroke="#505050" stroke-width="0.5" />
<polygon points="50.6,631.2 61,648.4 131.9,689.1 165.4,694.2 165.4,697.5 131.9,692.3 61,651.6 50.6,634.5" fill="#8e8e8e" stroke="#707070" stroke-width="0.3" stroke-linejoin="round" />
<polyline points="50.6,631.2 61,648.4 131.9,689.1 165.4,694.2" fill="none" stroke="#505050" stroke-width="0.5" />
<polygon points="50.6,627.8 61,644.9 131.9,685.6 165.4,690.8 165.4,694.1 131.9,688.9 61,648.2 50.6,631.1" fill="#8e8e8e" stroke="#707070" stroke-width="0.3" stroke-linejoin="round" />
<polyline points="50.6,627.8 61,644.9 131.9,685.6 165.4,690.8" fill="none" stroke="#505050" stroke-width="0.5" />
<polyline points="50.6,630.8 61,647.9 131.9,688.6 165.4,693.8" fill="none" stroke="#fcfcfc" stroke-width="0.95" />
<polyline points="50.6,631.3 61,648.4 131.9,689.1 165.4,694.3" fill="none" stroke="#505050" stroke-width="0.5" />
<polyline points="50.6,634.2 61,651.3 131.9,692 165.4,697.2" fill="none" stroke="#fcfcfc" stroke-width="0.95" />
<polyline points="50.6,634.8 61,651.9 131.9,692.6 165.4,697.8" fill="none" stroke="#505050" stroke-width="0.5" />
<polyline points="50.6,637.6 61,654.8 131.9,695.5 165.4,700.6" fill="none" stroke="#fcfcfc" stroke-width="0.95" />
<polyline points="50.6,638.2 61,655.4 131.9,696.1 165.4,701.2" fill="none" stroke="#505050" stroke-width="0.5" />
<circle cx="131.9" cy="686.8" r="0.72" fill="#1c1c1c"/>
<circle cx="131.9" cy="690.3" r="0.72" fill="#1c1c1c"/>
<circle cx="131.9" cy="693.7" r="0.72" fill="#1c1c1c"/>
<circle cx="131.9" cy="697.2" r="0.72" fill="#1c1c1c"/>
<polygon points="50.6,627.8 61,644.9 61,658.7 50.6,641.6" fill="#3c3c3c" stroke="#1c1c1c" stroke-width="0.6" stroke-linejoin="round" />
<polyline points="50.6,630.9 61,648" fill="none" stroke="#8a8a8a" stroke-width="0.5" />
<polyline points="50.6,634.3 61,651.4" fill="none" stroke="#8a8a8a" stroke-width="0.5" />
<polyline points="50.6,637.8 61,654.9" fill="none" stroke="#8a8a8a" stroke-width="0.5" />
<polyline points="63,642 133,681.2" fill="none" stroke="#1c1c1c" stroke-width="0.6" />
<polygon points="66.6,641.8 70,638.6 76.6,638.3 73,642" fill="#fff" stroke="#1c1c1c" stroke-width="0.7" stroke-linejoin="round" />
<polygon points="133,678.6 136.5,674.6 140.8,676 137,680" fill="#fff" stroke="#1c1c1c" stroke-width="0.7" stroke-linejoin="round" />
<polygon points="226.5,604.2 335,662.1 335,665.1 226.5,607.2" fill="#f4f4f4" stroke="#222" stroke-width="0.95" stroke-linejoin="round" />
<polygon points="226.5,600.5 335,658.4 335,661.4 226.5,603.5" fill="#f4f4f4" stroke="#222" stroke-width="0.95" stroke-linejoin="round" />
<polygon points="226.5,596.8 335,654.6 335,657.6 226.5,599.8" fill="#f4f4f4" stroke="#222" stroke-width="0.95" stroke-linejoin="round" />
<polygon points="226.5,593.1 335,651 335,654 226.5,596.1" fill="#f4f4f4" stroke="#222" stroke-width="0.95" stroke-linejoin="round" />
<polygon points="234,597 236.2,592.6 238.6,598" fill="#fff" stroke="#1c1c1c" stroke-width="0.7" stroke-linejoin="round" />
<polyline points="334,651.5 336.3,650 336.5,666.5 334.5,667.5" fill="none" stroke="#1c1c1c" stroke-width="0.8" />
<polygon points="222.2,631.2 224.3,630.6 337.4,693.9 337.4,696.5 338.4,700 338.4,760.7 335.3,761.8 222.2,696" fill="#fff" stroke="#1c1c1c" stroke-width="0.9" stroke-linejoin="round" />
<polyline points="224.3,631.5 224.3,696.5" fill="none" stroke="#1c1c1c" stroke-width="0.6" />
<polyline points="334.3,697.5 334.3,761.5" fill="none" stroke="#1c1c1c" stroke-width="0.7" />
<polyline points="334.3,697.5 337.4,696.5" fill="none" stroke="#1c1c1c" stroke-width="0.6" />
<polygon points="228.4,641.5 333.3,698 333.3,700.5 329.5,701.5 328.6,751 229.4,697" fill="#fff" stroke="#1c1c1c" stroke-width="0.8" stroke-linejoin="round" />
<polyline points="230,644 331,700.5" fill="none" stroke="#1c1c1c" stroke-width="0.5" />
<polyline points="261.3,690.8 270.5,681.6" fill="none" stroke="#1c1c1c" stroke-width="0.7" />
<polyline points="264.4,693.9 276.7,683.6" fill="none" stroke="#1c1c1c" stroke-width="0.7" />
<polyline points="269.5,698 281.8,686.7" fill="none" stroke="#1c1c1c" stroke-width="0.7" />
<polyline points="277.7,698 286,690.8" fill="none" stroke="#1c1c1c" stroke-width="0.7" />
<polyline points="231,697 253,709.3" fill="none" stroke="#1c1c1c" stroke-width="1.1" />
<polyline points="314,743 328,750.5" fill="none" stroke="#1c1c1c" stroke-width="1.1" />
<polygon points="226.6,720.4 228.5,719.8 335,780 334.9,781.5" fill="#fff" stroke="#1c1c1c" stroke-width="0.8" stroke-linejoin="round" />
<polygon points="226,732.8 334.9,792.4 334.9,795 226,735.4" fill="#eeeeee" stroke="#222" stroke-width="0.95" stroke-linejoin="round" />
<polygon points="226,729.4 334.9,789 334.9,791.7 226,732.1" fill="#eeeeee" stroke="#222" stroke-width="0.95" stroke-linejoin="round" />
<polygon points="226,726.1 334.9,785.7 334.9,788.4 226,728.8" fill="#eeeeee" stroke="#222" stroke-width="0.95" stroke-linejoin="round" />
<polygon points="226,722.8 334.9,782.4 334.9,785 226,725.4" fill="#eeeeee" stroke="#222" stroke-width="0.95" stroke-linejoin="round" />
<polyline points="238,721 238,723.5" fill="none" stroke="#1c1c1c" stroke-width="0.7" />
<polyline points="327,771 327,774" fill="none" stroke="#1c1c1c" stroke-width="0.7" />
<ellipse cx="461.3" cy="617.4" rx="122.2" ry="99.9" transform="rotate(36.5 461.3 617.4)" fill="none" stroke="#1c1c1c" stroke-width="0.85" stroke-dasharray="5.5 3"/>
<polygon points="366.3,565.3 405.6,545.1 405.6,600.8 366.3,622.3" fill="#f0f0f0" stroke="#1c1c1c" stroke-width="0.9" stroke-linejoin="round" />
<polyline points="368.6,566.5 368.6,621.5" fill="none" stroke="#1c1c1c" stroke-width="0.8" />
<polyline points="367,566.6 405.3,546.8" fill="none" stroke="#1c1c1c" stroke-width="0.5" />
<polyline points="368.6,567.8 405.6,547.6" fill="none" stroke="#1c1c1c" stroke-width="0.9" />
<polyline points="368.6,578.8 405.6,558.6" fill="none" stroke="#3a3a3a" stroke-width="1.5" />
<polyline points="368.6,589.8 405.6,569.6" fill="none" stroke="#3a3a3a" stroke-width="1.5" />
<polyline points="368.6,600.8 405.6,580.6" fill="none" stroke="#3a3a3a" stroke-width="1.5" />
<polyline points="368.6,611.8 405.6,591.6" fill="none" stroke="#3a3a3a" stroke-width="1.5" />
<polyline points="377.7,562.8 377.7,573.8" fill="none" stroke="#3a3a3a" stroke-width="1.5" />
<polyline points="394.2,553.8 394.2,564.8" fill="none" stroke="#3a3a3a" stroke-width="1.5" />
<polyline points="377.7,584.8 377.7,595.8" fill="none" stroke="#3a3a3a" stroke-width="1.5" />
<polyline points="394.2,575.8 394.2,586.8" fill="none" stroke="#3a3a3a" stroke-width="1.5" />
<polyline points="377.7,606.8 377.7,617.8" fill="none" stroke="#3a3a3a" stroke-width="1.5" />
<polygon points="413.9,546.3 510.6,600.8 510.6,657.7 496.7,652.7 496.7,631.1 428.4,590.6 428.4,609.6 413.9,607.5" fill="#f0f0f0" stroke="#1c1c1c" stroke-width="0.9" stroke-linejoin="round" />
<polyline points="415.8,548.3 415.8,607.6" fill="none" stroke="#1c1c1c" stroke-width="0.7" />
<polyline points="414.5,547.5 510,601.6" fill="none" stroke="#1c1c1c" stroke-width="0.5" />
<polyline points="415.8,552.8 508.6,605.1" fill="none" stroke="#1c1c1c" stroke-width="0.9" />
<polyline points="508.6,605.1 508.6,657" fill="none" stroke="#1c1c1c" stroke-width="0.8" />
<polyline points="415.8,563.8 508.6,616.1" fill="none" stroke="#3a3a3a" stroke-width="1.5" />
<polyline points="415.8,574.8 508.6,627.1" fill="none" stroke="#3a3a3a" stroke-width="1.5" />
<polyline points="415.8,585.8 428.4,592.9" fill="none" stroke="#3a3a3a" stroke-width="1.5" />
<polyline points="496.7,631.4 508.6,638.1" fill="none" stroke="#3a3a3a" stroke-width="1.5" />
<polyline points="415.8,596.8 428.4,603.9" fill="none" stroke="#3a3a3a" stroke-width="1.5" />
<polyline points="496.7,642.4 508.6,649.1" fill="none" stroke="#3a3a3a" stroke-width="1.5" />
<polyline points="430,560.8 430,571.8" fill="none" stroke="#3a3a3a" stroke-width="1.5" />
<polyline points="461.5,578.5 461.5,589.5" fill="none" stroke="#3a3a3a" stroke-width="1.5" />
<polyline points="493,596.3 493,607.3" fill="none" stroke="#3a3a3a" stroke-width="1.5" />
<polyline points="445.7,580.6 445.7,591.6" fill="none" stroke="#3a3a3a" stroke-width="1.5" />
<polyline points="477.3,598.4 477.3,609.4" fill="none" stroke="#3a3a3a" stroke-width="1.5" />
<polyline points="430,582.8 430,593.8" fill="none" stroke="#3a3a3a" stroke-width="1.5" />
<polyline points="461.5,600.5 461.5,611.5" fill="none" stroke="#3a3a3a" stroke-width="1.5" />
<polyline points="493,618.3 493,629.3" fill="none" stroke="#3a3a3a" stroke-width="1.5" />
<polygon points="390,535.6 396.2,532.8 397,537.2 390.8,540.3" fill="#fff" stroke="#1c1c1c" stroke-width="0.8" stroke-linejoin="round" />
<polyline points="390.4,535.8 396.2,533.2" fill="none" stroke="#1c1c1c" stroke-width="1.2" />
<polygon points="522.6,618.6 529,615.6 529.8,618.6 523.4,621.6" fill="#fff" stroke="#1c1c1c" stroke-width="0.8" stroke-linejoin="round" />
<polyline points="523,619 529,616.2" fill="none" stroke="#1c1c1c" stroke-width="1.3" />
<polygon points="515.7,637.4 553.1,616 555,673.5 517,694.9" fill="#fff" stroke="#1c1c1c" stroke-width="0.9" stroke-linejoin="round" />
<polyline points="519,639.5 519,694" fill="none" stroke="#1c1c1c" stroke-width="0.7" />
<polyline points="519,639.5 553.5,619.5" fill="none" stroke="#1c1c1c" stroke-width="0.7" />
<text opacity="0.995" x="491.9" y="27.1" font-size="10.5" text-anchor="middle">50</text>
<polyline points="484.3,24.7 465,26.6" fill="none" stroke="#1c1c1c" stroke-width="0.95" />
<text opacity="0.995" x="349.5" y="44" font-size="10.5" text-anchor="middle">46</text>
<polyline points="358.3,39.9 376.1,33.3" fill="none" stroke="#1c1c1c" stroke-width="0.95" />
<text opacity="0.995" x="351.7" y="57.8" font-size="10.5" text-anchor="middle">48</text>
<polyline points="359.2,52.8 376.6,46.6" fill="none" stroke="#1c1c1c" stroke-width="0.95" />
<text opacity="0.995" x="371" y="94.5" font-size="10.5" text-anchor="middle">45</text>
<polyline points="380.3,88.3 403,83.5" fill="none" stroke="#1c1c1c" stroke-width="0.95" />
<text opacity="0.995" x="484" y="89.8" font-size="10.5" text-anchor="middle">47</text>
<polyline points="476.7,83.3 451,78.5" fill="none" stroke="#1c1c1c" stroke-width="0.95" />
<text opacity="0.995" x="362.8" y="108.4" font-size="10.5" text-anchor="middle">44</text>
<polyline points="371.3,102.7 399.5,96.5" fill="none" stroke="#1c1c1c" stroke-width="0.95" />
<text opacity="0.995" x="379" y="168.3" font-size="10.5" text-anchor="middle">43</text>
<polyline points="388,164.9 402,159.7" fill="none" stroke="#1c1c1c" stroke-width="0.95" />
<text opacity="0.995" x="383" y="195.8" font-size="10.5" text-anchor="middle">42</text>
<polyline points="391.8,191.5 408.4,185" fill="none" stroke="#1c1c1c" stroke-width="0.95" />
<text opacity="0.995" x="489.4" y="212.2" font-size="10.5" text-anchor="middle">42</text>
<polyline points="481.8,206.6 464,200.8" fill="none" stroke="#1c1c1c" stroke-width="0.95" />
<text opacity="0.995" x="301.4" y="240.3" font-size="10.5" text-anchor="middle">51</text>
<polyline points="310.2,238.1 320.4,241.5" fill="none" stroke="#1c1c1c" stroke-width="0.95" />
<text opacity="0.995" x="379.9" y="268.1" font-size="10.5" text-anchor="middle">41</text>
<polyline points="387.4,262.5 404.5,254.5" fill="none" stroke="#1c1c1c" stroke-width="0.95" />
<text opacity="0.995" x="309.7" y="301.1" font-size="10.5" text-anchor="middle">19</text>
<polyline points="317.2,303.2 326.3,313.2" fill="none" stroke="#1c1c1c" stroke-width="0.95" />
<text opacity="0.995" x="297.5" y="313.3" font-size="10.5" text-anchor="middle">18</text>
<polyline points="303.1,316.1 316.3,325.4" fill="none" stroke="#1c1c1c" stroke-width="0.95" />
<text opacity="0.995" x="284.2" y="325.8" font-size="10.5" text-anchor="middle">17</text>
<polyline points="289.7,327.2 299.7,334.3" fill="none" stroke="#1c1c1c" stroke-width="0.95" />
<text opacity="0.995" x="220.6" y="342.5" font-size="10.5" text-anchor="middle">10</text>
<polyline points="226.5,343.9 237.7,353.1" fill="none" stroke="#1c1c1c" stroke-width="0.95" />
<text opacity="0.995" x="274.5" y="401.3" font-size="10.5" text-anchor="middle">7</text>
<polyline points="277.5,401.5 288.6,410.7" fill="none" stroke="#1c1c1c" stroke-width="0.95" />
<text opacity="0.995" x="260.7" y="407.5" font-size="10.5" text-anchor="middle">8</text>
<polyline points="265.4,409.2 281,420" fill="none" stroke="#1c1c1c" stroke-width="0.95" />
<text opacity="0.995" x="330.6" y="413.4" font-size="10.5" text-anchor="middle">9</text>
<polyline points="325,408.2 305.3,403" fill="none" stroke="#1c1c1c" stroke-width="0.95" />
<text opacity="0.995" x="256.3" y="434.3" font-size="10.5" text-anchor="middle">5</text>
<polyline points="249.5,433.4 233,438" fill="none" stroke="#1c1c1c" stroke-width="0.95" />
<text opacity="0.995" x="322.8" y="435.8" font-size="10.5" text-anchor="middle">52</text>
<polyline points="331.6,431.9 344.2,435.4" fill="none" stroke="#1c1c1c" stroke-width="0.95" />
<text opacity="0.995" x="324" y="464.3" font-size="10.5" text-anchor="middle">53</text>
<polyline points="332.8,460.7 346.7,464.6" fill="none" stroke="#1c1c1c" stroke-width="0.95" />
<text opacity="0.995" x="397.3" y="443.8" font-size="10.5" text-anchor="middle">16</text>
<polyline points="403.4,445.1 413.8,453.2" fill="none" stroke="#1c1c1c" stroke-width="0.95" />
<text opacity="0.995" x="447" y="474.8" font-size="10.5" text-anchor="middle">14</text>
<polyline points="440.3,469.4 418.9,466.3" fill="none" stroke="#1c1c1c" stroke-width="0.95" />
<text opacity="0.995" x="420" y="487.3" font-size="10.5" text-anchor="middle">15</text>
<polyline points="412.6,481.9 393.5,476" fill="none" stroke="#1c1c1c" stroke-width="0.95" />
<text opacity="0.995" x="478.3" y="478.4" font-size="10.5" text-anchor="middle">13</text>
<polyline points="485.1,475.5 506,471.5" fill="none" stroke="#1c1c1c" stroke-width="0.95" />
<text opacity="0.995" x="365.7" y="519" font-size="10.5" text-anchor="middle">3</text>
<polyline points="359.4,514.8 340.4,508.9" fill="none" stroke="#1c1c1c" stroke-width="0.95" />
<text opacity="0.995" x="323" y="535.3" font-size="10.5" text-anchor="middle">2</text>
<polyline points="317.3,531.2 292,524.6" fill="none" stroke="#1c1c1c" stroke-width="0.95" />
<text opacity="0.995" x="290.4" y="548.6" font-size="10.5" text-anchor="middle">1</text>
<polyline points="285.3,543.2 257.5,536" fill="none" stroke="#1c1c1c" stroke-width="0.95" />
<text opacity="0.995" x="266.3" y="573.9" font-size="10.5" text-anchor="middle">12</text>
<polyline points="258.7,568.6 234.7,562.5" fill="none" stroke="#1c1c1c" stroke-width="0.95" />
<text opacity="0.995" x="142.7" y="524.3" font-size="10.5" text-anchor="middle">25</text>
<polyline points="133.8,520.4 116,525.6" fill="none" stroke="#1c1c1c" stroke-width="0.95" />
<text opacity="0.995" x="97.9" y="704.7" font-size="10.5" text-anchor="middle">25</text>
<polyline points="106.3,699.4 124,694.9" fill="none" stroke="#1c1c1c" stroke-width="0.95" />
<text opacity="0.995" x="312.7" y="624.5" font-size="10.5" text-anchor="middle">21</text>
<polyline points="304.6,621.6 288,626.7" fill="none" stroke="#1c1c1c" stroke-width="0.95" />
<text opacity="0.995" x="235.7" y="772.1" font-size="10.5" text-anchor="middle">21</text>
<polyline points="243.8,766.6 264.6,759.2" fill="none" stroke="#1c1c1c" stroke-width="0.95" />
<text opacity="0.995" x="420" y="521.5" font-size="10.5" text-anchor="middle">36</text>
<polyline points="411.9,522.2 396,532.8" fill="none" stroke="#1c1c1c" stroke-width="0.95" />
<text opacity="0.995" x="477.8" y="557" font-size="10.5" text-anchor="middle">35</text>
<polyline points="473.2,560.1 463.9,573" fill="none" stroke="#1c1c1c" stroke-width="0.95" />
<text opacity="0.995" x="409.6" y="627.2" font-size="10.5" text-anchor="middle">34</text>
<polyline points="401.9,623.7 380.3,616.5" fill="none" stroke="#1c1c1c" stroke-width="0.95" />
<text opacity="0.995" x="543.6" y="598.1" font-size="10.5" text-anchor="middle">36</text>
<polyline points="537.2,603.4 530.3,614.6" fill="none" stroke="#1c1c1c" stroke-width="0.95" />
<text opacity="0.995" x="488.5" y="672.5" font-size="10.5" text-anchor="middle">33</text>
<polyline points="495.2,673.4 516,691.5" fill="none" stroke="#1c1c1c" stroke-width="0.95" />
<polyline points="169.1,660.7 190.5,713.2 221.4,668" fill="none" stroke="#1c1c1c" stroke-width="0.95" />
<text opacity="0.995" x="125.4" y="730.8" font-size="10.7" text-anchor="middle">FRONTS &amp; TRIMS PLEASE REFER</text>
<text opacity="0.995" x="125.2" y="742.8" font-size="10.7" text-anchor="middle">SEPARATE ILLUSTRATION</text>
<text opacity="0.995" x="437.2" y="657.8" font-size="10.6" text-anchor="middle">BRICK PANEL SET</text>
<polyline points="63.7,421.5 64,426.5" fill="none" stroke="#333" stroke-width="1.3" />
<polyline points="1.2,449 1.2,452.5" fill="none" stroke="#2a6f9a" stroke-width="1.0" />
<polyline points="424.6,71.5 424.6,80.5" fill="none" stroke="#1c1c1c" stroke-width="0.8" stroke-dasharray="3 1.5 1 1.5"/>
<polyline points="424.6,88 424.6,106" fill="none" stroke="#1c1c1c" stroke-width="0.8" stroke-dasharray="3 1.5 1 1.5"/>
<polyline points="424.6,124 424.6,176" fill="none" stroke="#1c1c1c" stroke-width="0.8" stroke-dasharray="3 1.5 1 1.5"/>
<polyline points="424.6,181 424.6,212" fill="none" stroke="#1c1c1c" stroke-width="0.8" stroke-dasharray="3 1.5 1 1.5"/>
<polyline points="424.6,229 424.6,244" fill="none" stroke="#1c1c1c" stroke-width="0.8" stroke-dasharray="3 1.5 1 1.5"/>
<polyline points="424.6,251 424.6,262" fill="none" stroke="#1c1c1c" stroke-width="0.8" stroke-dasharray="3 1.5 1 1.5"/>
<polyline points="424.6,267 424.6,316" fill="none" stroke="#1c1c1c" stroke-width="0.8" stroke-dasharray="3 1.5 1 1.5"/>
<polyline points="246.6,360.9 380,327.5" fill="none" stroke="#1c1c1c" stroke-width="0.8" stroke-dasharray="5 2 1 2"/>
<polyline points="312,399.6 367,387.5" fill="none" stroke="#1c1c1c" stroke-width="0.8" stroke-dasharray="5 2 1 2"/>
</svg>
</body></html>
